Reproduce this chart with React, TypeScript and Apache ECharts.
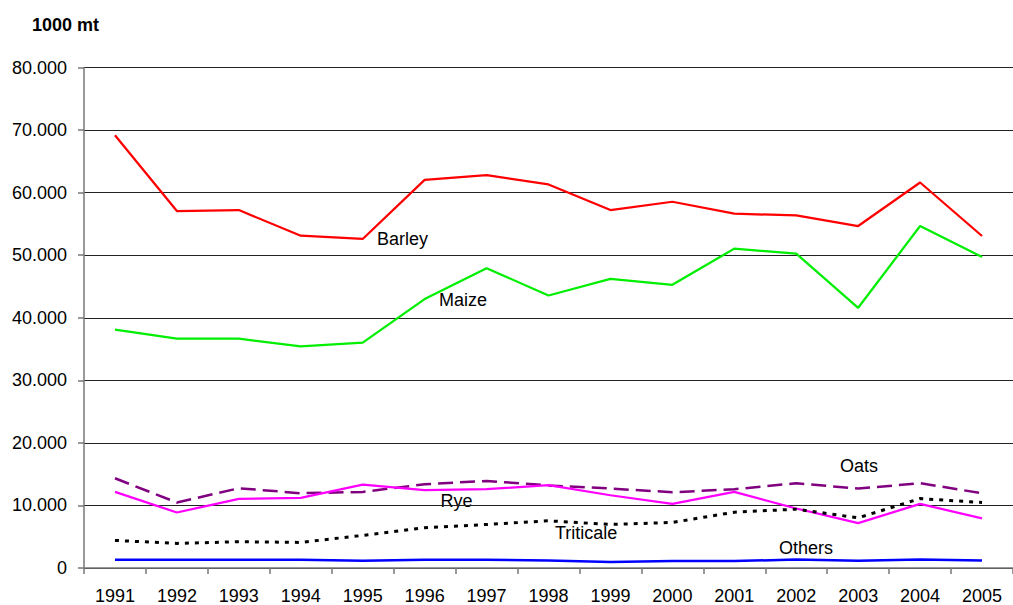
import React, { useEffect, useRef } from "react";
import * as echarts from "echarts";

const years = ["1991","1992","1993","1994","1995","1996","1997","1998","1999","2000","2001","2002","2003","2004","2005"];
const barley = [69160, 57050, 57210, 53120, 52590, 62040, 62790, 61310, 57210, 58540, 56630, 56360, 54660, 61620, 53070];
const maize = [38090, 36650, 36650, 35430, 36020, 42980, 47920, 43560, 46220, 45260, 51050, 50250, 41590, 54660, 49720];
const oats = [14340, 10470, 12750, 11950, 12160, 13390, 13920, 13200, 12700, 12110, 12590, 13550, 12700, 13550, 11950];
const rye = [12160, 8870, 11050, 11210, 13340, 12430, 12590, 13230, 11630, 10250, 12160, 9510, 7170, 10250, 7920];
const triticale = [4410, 3930, 4200, 4090, 5210, 6430, 6960, 7540, 6960, 7280, 8920, 9400, 8020, 11100, 10470];
const others = [1320, 1320, 1320, 1320, 1160, 1320, 1320, 1200, 960, 1100, 1100, 1350, 1160, 1350, 1200];

const FONT = "'Liberation Sans', Arial, sans-serif";

export default function App() {
  const ref = useRef<HTMLDivElement>(null);
  useEffect(() => {
    if (!ref.current) return;
    const chart = echarts.init(ref.current, undefined, { renderer: "svg" });
    const line = (name: string, data: number[], color: string, type: any, width = 2.25) => ({
      name,
      type: "line",
      data,
      symbol: "none",
      lineStyle: { color, width, type },
      z: 3,
    });
    const label = (text: string, x: number, y: number) => ({
      type: "text",
      left: x,
      top: y - 9,
      style: { text, fill: "#000", font: `18px ${FONT}` },
    });
    chart.setOption({
      animation: false,
      backgroundColor: "#fff",
      grid: { left: 84, top: 67.5, right: -8.5, bottom: 35.5, containLabel: false },
      xAxis: {
        type: "category",
        data: years,
        boundaryGap: true,
        axisLine: { lineStyle: { color: "#777", width: 1.5 } },
        axisTick: { show: true, length: 6, lineStyle: { color: "#777", width: 1.5 } },
        axisLabel: { color: "#000", fontSize: 18, fontFamily: FONT, margin: 19, interval: 0 },
        splitLine: { show: false },
      },
      yAxis: {
        type: "value",
        min: 0,
        max: 80000,
        interval: 10000,
        axisLine: { show: true, lineStyle: { color: "#777", width: 1.5 } },
        axisTick: { show: true, length: 6, lineStyle: { color: "#777", width: 1.5 } },
        axisLabel: {
          color: "#000",
          fontSize: 18,
          fontFamily: FONT,
          margin: 17,
          formatter: (v: number) => (v === 0 ? "0" : (v / 1000).toFixed(3)),
        },
        splitLine: { show: true, lineStyle: { color: "#222", width: 1 } },
      },
      series: [
        line("Barley", barley, "#ff0000", "solid"),
        line("Maize", maize, "#00ee00", "solid"),
        line("Oats", oats, "#800080", [15, 7], 2.5),
        line("Rye", rye, "#ff00ff", "solid"),
        line("Triticale", triticale, "#000000", [4, 6], 3),
        line("Others", others, "#0000ff", "solid", 2.5),
      ],
      graphic: [
        {
          type: "text",
          left: 32,
          top: 16,
          style: { text: "1000 mt", fill: "#000", font: `bold 18px ${FONT}` },
        },
        label("Barley", 377, 238.5),
        label("Maize", 439, 300),
        label("Oats", 840, 466),
        label("Rye", 440.5, 501),
        label("Triticale", 555, 533),
        label("Others", 779, 548),
      ],
    });
    return () => chart.dispose();
  }, []);
  return (
    <div
      ref={ref}
      style={{ position: "absolute", left: 0, top: 0, width: 1013, height: 605, overflow: "hidden" }}
    />
  );
}
